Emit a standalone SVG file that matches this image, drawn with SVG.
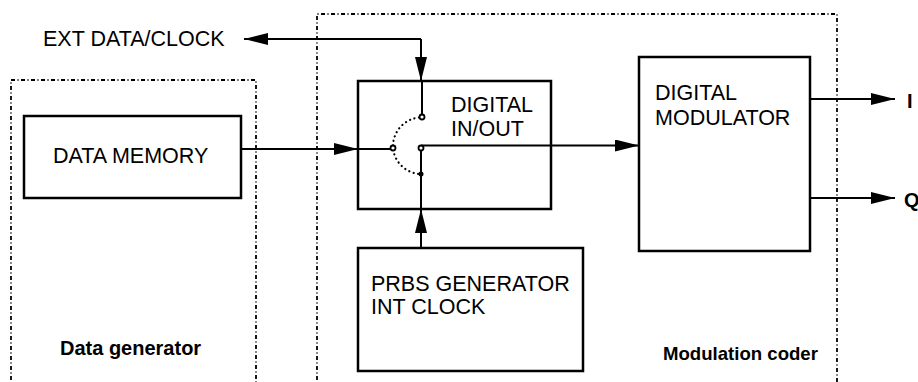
<svg xmlns="http://www.w3.org/2000/svg" width="918" height="382" viewBox="0 0 918 382">
<style>
.box{fill:#fff;stroke:#000;stroke-width:2.5}
.grp{fill:none;stroke:#000;stroke-width:1.8;stroke-dasharray:4 2.5 1 2.5}
.ln{fill:none;stroke:#000;stroke-width:2}
.t{font-family:"Liberation Sans",Arial,sans-serif;font-size:21.5px;fill:#000}
.b{font-family:"Liberation Sans",Arial,sans-serif;font-weight:bold;fill:#000}
.arc{fill:none;stroke:#000;stroke-width:2.2;stroke-dasharray:0.1 4.5;stroke-linecap:round}
</style>
<defs>
<marker id="ah" viewBox="0 0 24 12" refX="24" refY="6" markerWidth="24" markerHeight="12" markerUnits="userSpaceOnUse" orient="auto">
<path d="M0,0 L24,6 L0,12 Z" fill="#000"/>
</marker>
</defs>
<g id="data-generator">
<path class="grp" d="M11,390 V80 H256 V390"/>
<text class="b" x="60" y="355" font-size="20">Data generator</text>
</g>
<g id="modulation-coder">
<path class="grp" d="M317,390 V14 H837 V390"/>
<text class="b" x="663" y="360" font-size="18.6">Modulation coder</text>
</g>
<g id="data-memory">
<rect class="box" x="24" y="116" width="217" height="82"/>
<text class="t" x="53" y="163">DATA MEMORY</text>
</g>
<g id="digital-inout">
<rect class="box" x="358" y="81" width="193" height="128"/>
<text class="t" x="451" y="112">DIGITAL</text>
<text class="t" x="451" y="136">IN/OUT</text>
</g>
<g id="prbs-generator">
<rect class="box" x="358" y="248" width="225" height="123"/>
<text class="t" x="371" y="291">PRBS GENERATOR</text>
<text class="t" x="371" y="314">INT CLOCK</text>
</g>
<g id="digital-modulator">
<rect class="box" x="639" y="57" width="171" height="194"/>
<text class="t" x="655" y="100">DIGITAL</text>
<text class="t" x="655" y="125">MODULATOR</text>
</g>
<g id="ext-data-clock">
<text class="t" x="43" y="46">EXT DATA/CLOCK</text>
</g>
<g id="out-i"><text class="b" x="907" y="108" font-size="20">I</text></g>
<g id="out-q"><text class="b" x="904" y="207" font-size="20">Q</text></g>
<g id="connectors">
<path class="ln" d="M421,39 H244" marker-end="url(#ah)"/>
<path class="ln" d="M421,39 V81" marker-end="url(#ah)"/>
<path class="ln" d="M422,81 V114.5"/>
<path class="ln" d="M241,149 H358" marker-end="url(#ah)"/>
<path class="ln" d="M358,149 H390.5"/>
<path class="ln" d="M421,248 V209" marker-end="url(#ah)"/>
<path class="ln" d="M421,209 V150.5"/>
<path class="ln" d="M421,145.5 H639" marker-end="url(#ah)"/>
<path class="ln" d="M810,99 H895" marker-end="url(#ah)"/>
<path class="ln" d="M810,198 H895" marker-end="url(#ah)"/>
<path class="arc" d="M419,117.5 A29,29 0 0,0 393,148 A29,29 0 0,0 419,174"/>
<circle cx="422" cy="117" r="2.5" fill="#fff" stroke="#000" stroke-width="1.8"/>
<circle cx="393" cy="148" r="2.5" fill="#fff" stroke="#000" stroke-width="1.8"/>
<circle cx="421" cy="148" r="2.5" fill="#fff" stroke="#000" stroke-width="1.8"/>
<circle cx="421" cy="174" r="2.5" fill="#000"/>
</g>
</svg>
